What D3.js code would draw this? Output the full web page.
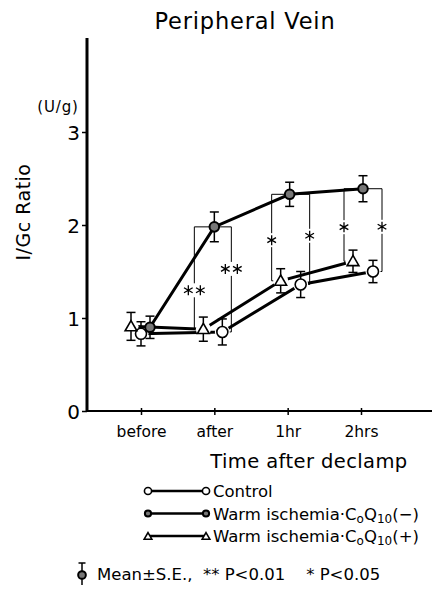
<!DOCTYPE html>
<html>
<head>
<meta charset="utf-8">
<script src="https://cdn.jsdelivr.net/npm/d3@7"></script>
<style>
  body { margin: 0; background: #fff; }
  svg { display: block; font-family: "DejaVu Sans", "Liberation Sans", sans-serif; }
  text { fill: #000; white-space: pre; }
</style>
</head>
<body>
<div id="chart"></div>
<script>
// Data
const times = ["before", "after", "1hr", "2hrs"];
const yTicks = [0, 1, 2, 3];

const controlMean = [0.83, 0.85, 1.36, 1.50];
const controlSE = [0.13, 0.14, 0.14, 0.12];

const wiMinusMean = [0.90, 1.98, 2.33, 2.39];
const wiMinusSE = [0.12, 0.16, 0.13, 0.14];

const wiPlusMean = [0.91, 0.88, 1.40, 1.61];
const wiPlusSE = [0.15, 0.13, 0.13, 0.12];

// significance brackets: time index, side, number of stars
const brackets = [
  { t: 1, side: "left", stars: 2 },
  { t: 1, side: "right", stars: 2 },
  { t: 2, side: "left", stars: 1 },
  { t: 2, side: "right", stars: 1 },
  { t: 3, side: "left", stars: 1 },
  { t: 3, side: "right", stars: 1 },
];

const W = 437, H = 589;
const svg = d3.select("#chart").append("svg").attr("width", W).attr("height", H);

const x = d3.scalePoint().domain(times).range([141, 361]);
const y = d3.scaleLinear().domain([0, 4]).range([411, 39]);

// horizontal dodge of each group around its time point (px)
const dodge = {
  control: [0, 8, 13, 12],
  minus: [9, 0, 2, 2],
  plus: [-10, -11, -7, -8],
};
// where along each bracket the star sits (fraction from top)
const starAt = [0.62, 0.4, 0.53, 0.46, 0.53, 0.46];

const series = [
  { key: "control", mean: controlMean, se: controlSE, shape: "circle" },
  { key: "plus", mean: wiPlusMean, se: wiPlusSE, shape: "triangle" },
  { key: "minus", mean: wiMinusMean, se: wiMinusSE, shape: "filled" },
];

function px(s, i) { return x(times[i]) + dodge[s.key][i]; }

// Title
svg.append("text").attr("x", 245).attr("y", 29).attr("text-anchor", "middle")
  .attr("font-size", 22.5).attr("letter-spacing", 0.8).text("Peripheral Vein");

// Y axis
const yAxis = svg.append("g").attr("transform", "translate(87,0)")
  .call(d3.axisLeft(y).tickValues(yTicks).tickSize(5).tickFormat(d3.format("d")));
yAxis.select(".domain").remove();
yAxis.selectAll(".tick line").attr("stroke", "#000").attr("stroke-width", 1.5);
yAxis.selectAll(".tick text").attr("font-size", 20).attr("font-family", "DejaVu Sans")
  .attr("dy", "0.36em").attr("x", -7).attr("fill", "#000");
svg.append("line").attr("x1", 87).attr("x2", 87).attr("y1", 38).attr("y2", 412)
  .attr("stroke", "#000").attr("stroke-width", 3);

svg.append("text").attr("x", 58).attr("y", 112).attr("text-anchor", "middle")
  .attr("font-size", 15).attr("letter-spacing", 0.8).text("(U/g)");
svg.append("text").attr("transform", "translate(30,212) rotate(-90)")
  .attr("text-anchor", "middle").attr("font-size", 19).attr("letter-spacing", 0.5)
  .text("I/Gc Ratio");

// X axis
const xAxis = svg.append("g").attr("transform", "translate(0,411)")
  .call(d3.axisBottom(x).tickSize(4));
xAxis.select(".domain").remove();
xAxis.selectAll(".tick line").attr("stroke", "#000").attr("stroke-width", 1.5).attr("y1", -3);
xAxis.selectAll(".tick text").attr("font-size", 15.5).attr("font-family", "DejaVu Sans")
  .attr("y", 15).attr("dy", "0.71em").attr("fill", "#000");
svg.append("line").attr("x1", 86).attr("x2", 432).attr("y1", 411).attr("y2", 411)
  .attr("stroke", "#000").attr("stroke-width", 2.2);

svg.append("text").attr("x", 309).attr("y", 468).attr("text-anchor", "middle")
  .attr("font-size", 19.5).attr("letter-spacing", 0.4).text("Time after declamp");

// Significance brackets (thin) with asterisks
const star = d3.symbol(d3.symbolAsterisk, 70)();
const bg = svg.append("g").attr("fill", "none").attr("stroke", "#000").attr("stroke-width", 1);
const starG = svg.append("g");
brackets.forEach((b, k) => {
  const top = series[2];
  const other = b.side === "left" ? series[1] : series[0];
  const i = b.t;
  const x0 = px(top, i), y0 = y(top.mean[i]);
  const x1 = px(other, i), y1 = y(other.mean[i]);
  const bx = b.side === "left" ? Math.min(x0, x1) - 9 : Math.max(x0, x1) + 9;
  bg.append("path").attr("d", d3.line()([[x0, y0], [bx, y0], [bx, y1], [x1, y1]]));
  const ly = y0 + (y1 - y0) * starAt[k];
  const w = b.stars * 12 + 1;
  starG.append("rect").attr("x", bx - w / 2).attr("y", ly - 7)
    .attr("width", w).attr("height", 14).attr("fill", "#fff");
  d3.range(b.stars).forEach((j) => {
    const sx = bx + (j - (b.stars - 1) / 2) * 12;
    starG.append("path").attr("d", star).attr("transform", `translate(${sx},${ly})`)
      .attr("fill", "none").attr("stroke", "#000").attr("stroke-width", 1.3);
  });
});

// Markers
function marker(g, shape, cx, cy, size) {
  const k = size || 1;
  if (shape === "circle") {
    g.append("circle").attr("cx", cx).attr("cy", cy).attr("r", 5.5 * k)
      .attr("fill", "#fff").attr("stroke", "#000").attr("stroke-width", 1.6);
  } else if (shape === "filled") {
    g.append("circle").attr("cx", cx).attr("cy", cy).attr("r", 4.8 * k)
      .attr("fill", "#777").attr("stroke", "#000").attr("stroke-width", 2);
  } else {
    g.append("path").attr("d", d3.symbol(d3.symbolTriangle, 60 * k * k)())
      .attr("transform", `translate(${cx},${cy + 1})`)
      .attr("fill", "#fff").attr("stroke", "#000").attr("stroke-width", 1.6);
  }
}

// Lines, with white gaps round the open markers
const line = d3.line();
series.forEach((s) => {
  const pts = s.mean.map((m, i) => [px(s, i), y(m)]);
  svg.append("path").attr("d", line(pts)).attr("fill", "none")
    .attr("stroke", "#000").attr("stroke-width", 3);
  if (s.shape !== "filled") {
    pts.forEach((p) => {
      svg.append("circle").attr("cx", p[0]).attr("cy", p[1]).attr("r", 7.5).attr("fill", "#fff");
    });
  }
});

// Error bars and markers
series.forEach((s) => {
  const g = svg.append("g");
  s.mean.forEach((m, i) => {
    const cx = px(s, i);
    const hi = y(m + s.se[i]), lo = y(m - s.se[i]);
    g.append("line").attr("x1", cx).attr("x2", cx).attr("y1", hi).attr("y2", lo)
      .attr("stroke", "#000").attr("stroke-width", 1.5);
    [hi, lo].forEach((yy) => {
      g.append("line").attr("x1", cx - 4.5).attr("x2", cx + 4.5).attr("y1", yy).attr("y2", yy)
        .attr("stroke", "#000").attr("stroke-width", 1.5);
    });
    marker(g, s.shape, cx, y(m));
  });
});

// Legend
const legendRows = [
  { shape: "circle", parts: [["Control"]] },
  { shape: "filled", parts: [["Warm ischemia·C"], ["o", "sub"], ["Q"], ["10", "sub"], ["(−)"]] },
  { shape: "triangle", parts: [["Warm ischemia·C"], ["o", "sub"], ["Q"], ["10", "sub"], ["(+)"]] },
];
const legendY = d3.scalePoint().domain([0, 1, 2]).range([491, 536]);
legendRows.forEach((r, k) => {
  const ly = legendY(k);
  const g = svg.append("g");
  g.append("line").attr("x1", 148).attr("x2", 206).attr("y1", ly).attr("y2", ly)
    .attr("stroke", "#000").attr("stroke-width", 2.5);
  marker(g, r.shape, 148, ly, 0.65);
  marker(g, r.shape, 206, ly, 0.65);
  const t = g.append("text").attr("x", 213).attr("y", ly + 6).attr("font-size", 16.5);
  let prevSub = false;
  r.parts.forEach((p) => {
    const ts = t.append("tspan").text(p[0]);
    if (p[1] === "sub") { ts.attr("font-size", 12).attr("dy", prevSub ? 0 : 3); prevSub = true; }
    else { if (prevSub) ts.attr("dy", -3); prevSub = false; }
  });
});

// Mean ± S.E. note
const ng = svg.append("g");
ng.append("line").attr("x1", 82).attr("x2", 82).attr("y1", 563).attr("y2", 585)
  .attr("stroke", "#000").attr("stroke-width", 1.5);
ng.append("line").attr("x1", 78.5).attr("x2", 85.5).attr("y1", 563).attr("y2", 563)
  .attr("stroke", "#000").attr("stroke-width", 1.5);
marker(ng, "filled", 82, 575, 0.8);
svg.append("text").attr("x", 97).attr("y", 580).attr("font-size", 16.5)
  .text("Mean±S.E.,  ** P<0.01    * P<0.05");
</script>
</body>
</html>
